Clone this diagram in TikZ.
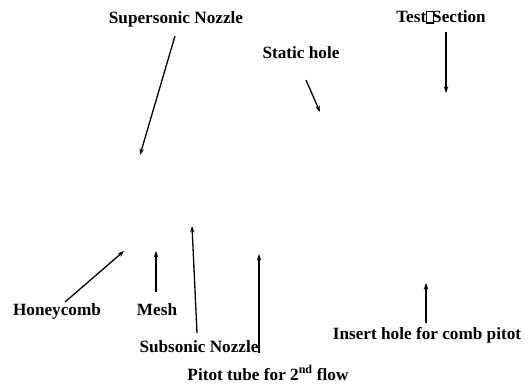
\documentclass[tikz,border=0pt]{standalone}
\usepackage{fontspec}
\setmainfont{Liberation Serif}
\usetikzlibrary{arrows.meta}
% small empty box used as a placeholder glyph
\newcommand{\placebox}{{\setlength\fboxsep{0pt}\setlength\fboxrule{1.1pt}\fbox{\rule{0pt}{0.6em}\hspace{0.34em}}}}
\begin{document}
\begin{tikzpicture}[x=1pt,y=-1pt,
  lbl/.style={inner sep=0pt,font=\fontsize{17.2}{20}\selectfont\bfseries},
  pointer/.style={line width=1.3pt,-{Stealth[length=6.5pt,width=4.5pt]}}]
\useasboundingbox (0,0) rectangle (529,385);

% labels
\node[lbl] (sup)    at (176,19)  {Supersonic Nozzle};
\node[lbl] (test)   at (441,17)  {Test\placebox\kern-0.12em Section};
\node[lbl] (static) at (301,53)  {Static hole};
\node[lbl] (honey)  at (57,311)  {Honeycomb};
\node[lbl] (mesh)   at (157,310) {Mesh};
\node[lbl] (subs)   at (199,347) {Subsonic Nozzle};
\node[lbl] (pitot)  at (268,373) {Pitot tube for 2\textsuperscript{nd} flow};
\node[lbl] (insert) at (427,335) {Insert hole for comb pitot};

% arrow tails and tips
\coordinate (supA) at (175,36);   \coordinate (supB) at (140,155);
\coordinate (testA) at (446,32);  \coordinate (testB) at (446,93);
\coordinate (statA) at (306,80);  \coordinate (statB) at (320,112);
\coordinate (honA) at (65,302);   \coordinate (honB) at (124,251);
\coordinate (meshA) at (156,292); \coordinate (meshB) at (156,251);
\coordinate (subA) at (197,333);  \coordinate (subB) at (192,226);
\coordinate (pitA) at (259,353);  \coordinate (pitB) at (259,254);
\coordinate (insA) at (426,323);  \coordinate (insB) at (426,283);

\draw[pointer] (supA) -- (supB);
\draw[pointer] (testA) -- (testB);
\draw[pointer] (statA) -- (statB);
\draw[pointer] (honA) -- (honB);
\draw[pointer] (meshA) -- (meshB);
\draw[pointer] (subA) -- (subB);
\draw[pointer] (pitA) -- (pitB);
\draw[pointer] (insA) -- (insB);
\end{tikzpicture}
\end{document}
